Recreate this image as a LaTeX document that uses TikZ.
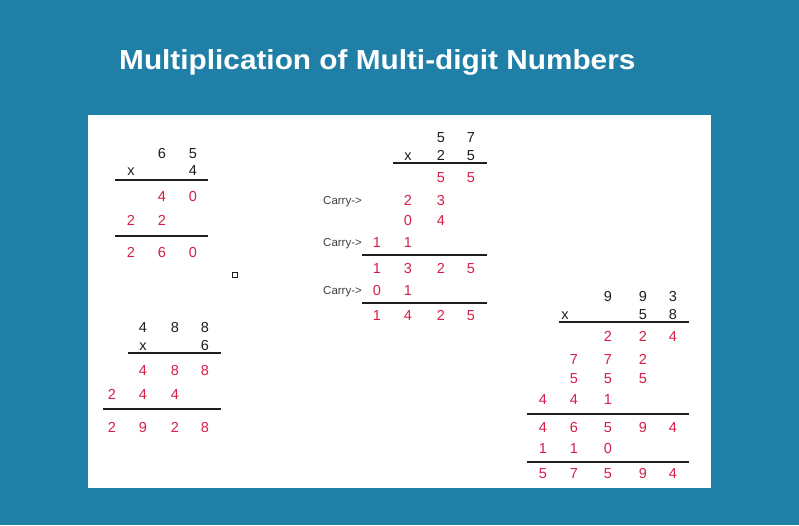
\documentclass[tikz,border=0pt]{standalone}
\usepackage{fontspec}
\setmainfont{Liberation Sans}
\definecolor{bg}{RGB}{31,127,166}
\definecolor{dred}{RGB}{214,30,72}
\definecolor{ink}{RGB}{30,30,30}
\newcommand\digrow[4]{\foreach \xx/\tt [count=\i] in {#4} \node[#1] (#2-\i) at (\xx,#3) {\tt};}
\begin{document}
\begin{tikzpicture}[x=1pt,y=-1pt,
  dig/.style={font=\fontsize{14.5}{14.5}\selectfont, inner sep=0pt, anchor=center, text height=10pt, text depth=0pt},
  blk/.style={dig,text=ink},
  rd/.style={dig,text=dred},
  carry/.style={font=\fontsize{11.5}{11.5}\selectfont, inner sep=0pt, anchor=west, text=ink!85, text height=8pt, text depth=0pt},
  rule/.style={line width=2pt, ink}]
\fill[bg] (0,0) rectangle (799,525);
\useasboundingbox (0,0) rectangle (799,525);
\fill[white] (88,115) rectangle (711,487.5);
\node[anchor=base west, text=white, font=\bfseries\fontsize{27.5}{27.5}\selectfont, inner sep=0pt] (title) at (119,69) {\scalebox{1.083}[1]{Multiplication of Multi-digit Numbers}};

% Problem 1: 65 x 4
\digrow{blk}{a1}{153}{162/6,193/5}
\digrow{blk}{a2}{170}{131/x,193/4}
\draw[rule] (115,180) -- (208,180);
\digrow{rd}{a3}{196}{162/4,193/0}
\digrow{rd}{a4}{220}{131/2,162/2}
\draw[rule] (115,236) -- (208,236);
\digrow{rd}{a5}{252}{131/2,162/6,193/0}

% small square
\draw[line width=1.1pt, ink] (232.5,272.5) rectangle (237.5,277.5);

% Problem 2: 57 x 25
\digrow{blk}{b1}{137}{441/5,471/7}
\digrow{blk}{b2}{155}{408/x,441/2,471/5}
\draw[rule] (393,163) -- (487,163);
\digrow{rd}{b3}{177}{441/5,471/5}
\node[carry] (c1) at (323,200) {Carry->};
\digrow{rd}{b4}{200}{408/2,441/3}
\digrow{rd}{b5}{220}{408/0,441/4}
\node[carry] (c2) at (323,242) {Carry->};
\digrow{rd}{b6}{242}{377/1,408/1}
\draw[rule] (362,255) -- (487,255);
\digrow{rd}{b7}{268}{377/1,408/3,441/2,471/5}
\node[carry] (c3) at (323,290) {Carry->};
\digrow{rd}{b8}{290}{377/0,408/1}
\draw[rule] (362,303) -- (487,303);
\digrow{rd}{b9}{315}{377/1,408/4,441/2,471/5}

% Problem 3: 488 x 6
\digrow{blk}{d1}{327}{143/4,175/8,205/8}
\digrow{blk}{d2}{345}{143/x,205/6}
\draw[rule] (128,353) -- (221,353);
\digrow{rd}{d3}{370}{143/4,175/8,205/8}
\digrow{rd}{d4}{394}{112/2,143/4,175/4}
\draw[rule] (103,409) -- (221,409);
\digrow{rd}{d5}{427}{112/2,143/9,175/2,205/8}

% Problem 4: 993 x 58
\digrow{blk}{e1}{296}{608/9,643/9,673/3}
\digrow{blk}{e2}{314}{565/x,643/5,673/8}
\draw[rule] (559,322) -- (689,322);
\digrow{rd}{e3}{336}{608/2,643/2,673/4}
\digrow{rd}{e4}{359}{574/7,608/7,643/2}
\digrow{rd}{e5}{378}{574/5,608/5,643/5}
\digrow{rd}{e6}{399}{543/4,574/4,608/1}
\draw[rule] (527,414) -- (689,414);
\digrow{rd}{e7}{427}{543/4,574/6,608/5,643/9,673/4}
\digrow{rd}{e8}{448}{543/1,574/1,608/0}
\draw[rule] (527,462) -- (689,462);
\digrow{rd}{e9}{473}{543/5,574/7,608/5,643/9,673/4}
\end{tikzpicture}
\end{document}
